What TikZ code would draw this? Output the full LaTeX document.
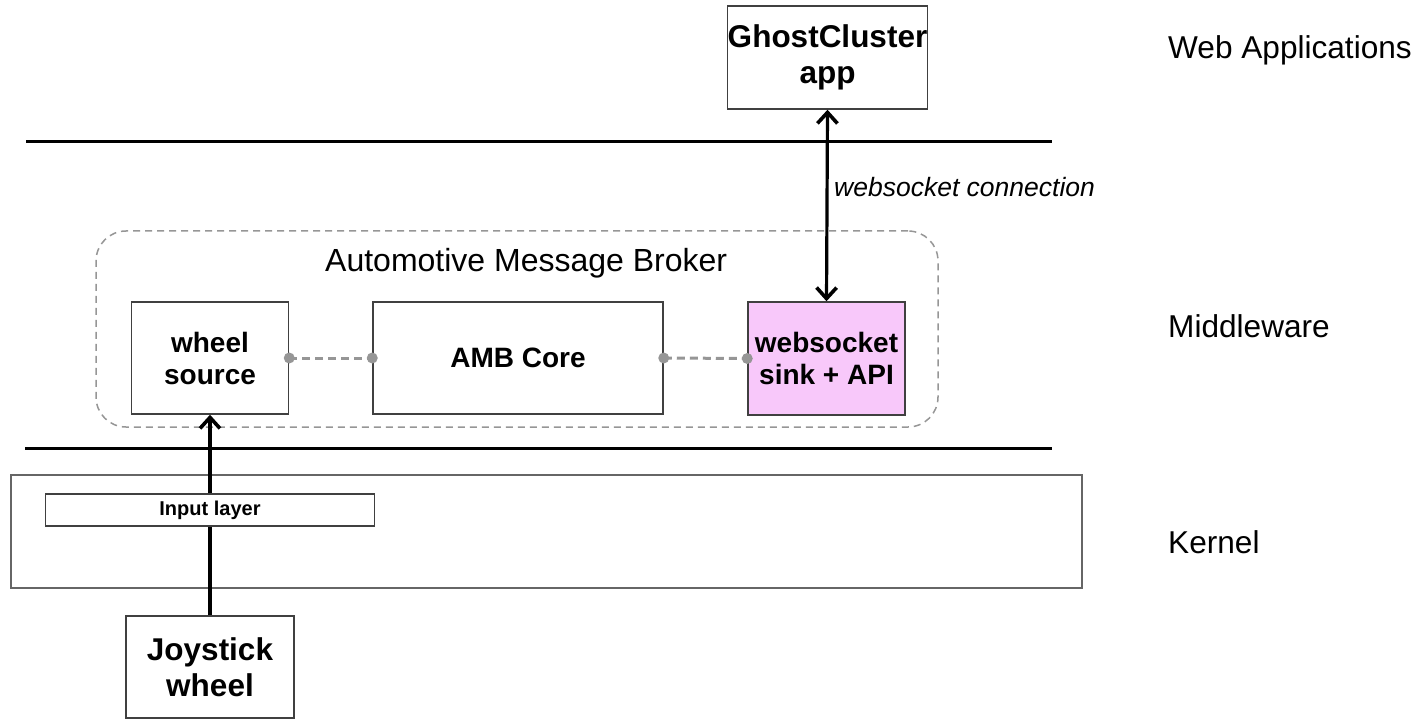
\documentclass[tikz,border=0pt]{standalone}
\usepackage{fontspec}
\setmainfont{Liberation Sans}
\usetikzlibrary{arrows.meta}
\definecolor{sinkpink}{RGB}{248,200,250}
\definecolor{boxline}{RGB}{64,64,64}
\definecolor{dashgray}{RGB}{150,150,150}
\tikzset{
  box/.style={draw=boxline, line width=1.5pt, rectangle, inner sep=0pt, align=center, font=\fontsize{28}{32}\selectfont\bfseries},
  bigbox/.style={box, font=\fontsize{31.5}{36.5}\selectfont\bfseries},
  layerlabel/.style={anchor=base west, inner sep=0pt, font=\fontsize{31.6}{36}\selectfont},
  sepline/.style={line width=3pt, black},
  thickarrow/.style={line width=3.2pt, black},
  barb/.tip={Straight Barb[length=11pt,width=20pt,line width=3.6pt]},
  plugline/.style={dashgray, line width=3pt, dash pattern=on 8pt off 5pt},
  plugdot/.style={dashgray},
}
\begin{document}
\begin{tikzpicture}[x=1pt,y=-1pt]
\useasboundingbox (0,0) rectangle (1424,719);
% layer separators
\coordinate (s1a) at (26,142);
\coordinate (s1b) at (1052,142);
\coordinate (s2a) at (25,448);
\coordinate (s2b) at (1052,448);
\draw[sepline] (s1a) -- (s1b);
\draw[sepline] (s2a) -- (s2b);
% kernel
\node[draw=boxline!80, line width=2pt, rectangle, inner sep=0pt, minimum width=1071pt, minimum height=113pt] (kernel) at (546.5,531.5) {};
% AMB container
\node[draw=dashgray, line width=1.5pt, dash pattern=on 7pt off 5pt, rounded corners=30pt, rectangle, inner sep=0pt, minimum width=842pt, minimum height=196pt] (amb) at (517,329) {};
\node[anchor=base west, inner sep=0pt, font=\fontsize{32}{36}\selectfont] (amblabel) at (325,272) {Automotive Message Broker};
% boxes
\node[bigbox, minimum width=193pt, minimum height=103pt] (ghost) at (827.5,57.5) {GhostCluster\\app};
\node[box, minimum width=157pt, minimum height=112pt] (wsrc) at (210,358) {wheel\\source};
\node[box, minimum width=290pt, minimum height=112pt] (core) at (518,358) {AMB Core};
\node[box, fill=sinkpink, minimum width=157pt, minimum height=113pt] (wsink) at (826.5,358.5) {websocket\\sink + API};
\node[box, line width=1.2pt, minimum width=329pt, minimum height=32pt, font=\fontsize{20}{24}\selectfont\bfseries] (input) at (210,510) {Input layer};
\node[bigbox, minimum width=168pt, minimum height=102pt] (joy) at (210,667) {Joystick\\wheel};
% plug connectors
\draw[plugline] (wsrc.east) -- (core.west);
\draw[plugline] (core.east) -- (wsink.west);
\fill[plugdot] (wsrc.east) circle (5.5pt);
\fill[plugdot] (core.west) circle (5.5pt);
\fill[plugdot] (core.east) circle (5.5pt);
\fill[plugdot] (wsink.west) circle (5.5pt);
% arrows
\draw[thickarrow, {barb}-{barb}] (ghost.south) -- (wsink.north);
\node[anchor=base west, inner sep=0pt, font=\fontsize{26.5}{32}\selectfont\itshape] (wslabel) at (834,197) {websocket connection};
\draw[thickarrow] (joy.north) -- (input.south);
\draw[thickarrow, -{barb}] (input.north) -- (wsrc.south);
% layer labels
\node[layerlabel] (lweb) at (1168,59) {Web Applications};
\node[layerlabel] (lmid) at (1168,337) {Middleware};
\node[layerlabel] (lker) at (1168,553) {Kernel};
\end{tikzpicture}
\end{document}
